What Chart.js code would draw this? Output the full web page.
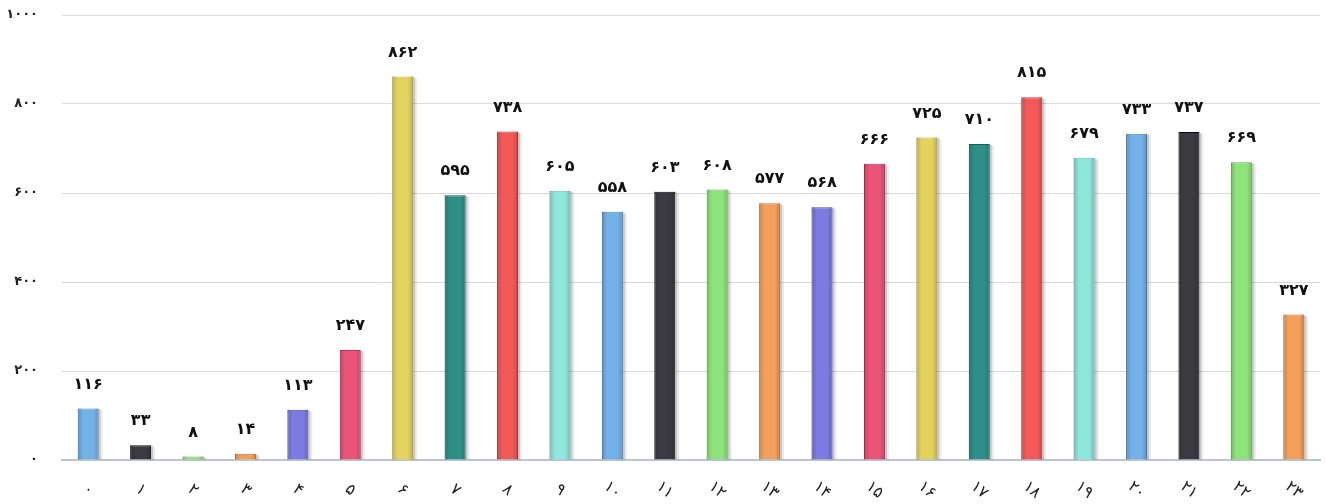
<!DOCTYPE html>
<html lang="fa">
<head>
<meta charset="UTF-8">
<title>Hourly chart</title>
<script src="https://cdn.jsdelivr.net/npm/chart.js"></script>
<style>
  body {
    margin: 0;
    background-color: #fff;
  }
  .wrap {
    width: 1325px;
    height: 504px;
  }
</style>
</head>
<body>

<div class="wrap">
  <canvas id="hours-chart"></canvas>
</div>

<script>
  // hours of the day, shown with Persian digits
  const hours = ['۰','۱','۲','۳','۴','۵','۶','۷','۸','۹','۱۰','۱۱','۱۲','۱۳','۱۴','۱۵','۱۶','۱۷','۱۸','۱۹','۲۰','۲۱','۲۲','۲۳'];
  const counts = [116, 33, 8, 14, 113, 247, 862, 595, 738, 605, 558, 603, 608, 577, 568, 666, 725, 710, 815, 679, 733, 737, 669, 327];
  const yTicks = [0, 200, 400, 600, 800, 1000];

  const palette = ['#74b1e6', '#3a3a40', '#8ee47a', '#f3a05c', '#7b7be0', '#ea5479', '#e3d35e', '#2e8f88', '#f25a5a', '#8fe6da'];
  const edges   = ['#4f8cc8', '#0c0c0e', '#62bd55', '#d07a36', '#4f4fb4', '#c3335a', '#bfae3c', '#15625c', '#cc3838', '#63c3b6'];

  const faDigits = '۰۱۲۳۴۵۶۷۸۹';
  function toFa(n) {
    return String(n).replace(/\d/g, d => faDigits[d]);
  }

  // grey strip on the right of each bar, drawn before the bars
  const barShadow = {
    id: 'barShadow',
    beforeDatasetsDraw(chart) {
      const ctx = chart.ctx;
      const meta = chart.getDatasetMeta(0);
      ctx.save();
      meta.data.forEach(bar => {
        const right = bar.x + bar.width / 2;
        const h = bar.base - bar.y;
        if (h < 1) return;
        ctx.fillStyle = 'rgba(0,0,0,0.22)';
        ctx.fillRect(right, bar.y + 1, 2, h - 1);
        ctx.fillStyle = 'rgba(0,0,0,0.08)';
        ctx.fillRect(right + 2, bar.y + 2, 2, h - 2);
      });
      ctx.restore();
    },
    afterDatasetsDraw(chart) {
      // darker edges, lighter middle
      const ctx = chart.ctx;
      const meta = chart.getDatasetMeta(0);
      ctx.save();
      meta.data.forEach(bar => {
        const left = bar.x - bar.width / 2;
        const h = bar.base - bar.y;
        if (h < 1) return;
        const g = ctx.createLinearGradient(left, 0, left + bar.width, 0);
        g.addColorStop(0, 'rgba(0,0,0,0.18)');
        g.addColorStop(0.25, 'rgba(0,0,0,0)');
        g.addColorStop(0.75, 'rgba(0,0,0,0)');
        g.addColorStop(1, 'rgba(0,0,0,0.18)');
        ctx.fillStyle = g;
        ctx.fillRect(left, bar.y, bar.width, h);
      });
      ctx.restore();
    }
  };

  // value above each bar
  const valueLabels = {
    id: 'valueLabels',
    afterDatasetsDraw(chart) {
      const ctx = chart.ctx;
      const meta = chart.getDatasetMeta(0);
      ctx.save();
      ctx.font = 'bold 16px "DejaVu Sans"';
      ctx.fillStyle = '#111';
      ctx.textAlign = 'center';
      ctx.textBaseline = 'bottom';
      meta.data.forEach((bar, i) => {
        ctx.fillText(toFa(counts[i]), bar.x, bar.y - 16);
      });
      ctx.restore();
    }
  };

  // x labels slanted clockwise
  const slantedLabels = {
    id: 'slantedLabels',
    afterDraw(chart) {
      const ctx = chart.ctx;
      const xs = chart.scales.x;
      ctx.save();
      ctx.font = '16px "DejaVu Sans"';
      ctx.fillStyle = '#222';
      ctx.textAlign = 'center';
      ctx.textBaseline = 'middle';
      hours.forEach((h, i) => {
        ctx.save();
        ctx.translate(xs.getPixelForValue(i), xs.top + 30);
        ctx.rotate(40 * Math.PI / 180);
        ctx.fillText(h, 0, 0);
        ctx.restore();
      });
      ctx.restore();
    }
  };

  const ctx = document.getElementById('hours-chart').getContext('2d');
  new Chart(ctx, {
    type: 'bar',
    data: {
      labels: hours,
      datasets: [{
        data: counts,
        backgroundColor: counts.map((v, i) => palette[i % palette.length]),
        borderColor: counts.map((v, i) => edges[i % edges.length]),
        borderWidth: 1,
        barPercentage: 0.4,
        categoryPercentage: 1
      }]
    },
    options: {
      responsive: true,
      maintainAspectRatio: false,
      animation: false,
      layout: {
        padding: { top: 15, right: 5, left: 0, bottom: 0 }
      },
      plugins: {
        legend: { display: false },
        tooltip: { enabled: false }
      },
      scales: {
        x: {
          ticks: { display: false },
          grid: { display: false },
          border: { color: '#b9c5d2', width: 2 },
          afterFit(scale) { scale.height = 44; }
        },
        y: {
          min: 0,
          max: 1000,
          afterBuildTicks(scale) {
            scale.ticks = yTicks.map(v => ({ value: v }));
          },
          ticks: {
            padding: 24,
            color: '#222',
            font: { family: 'DejaVu Sans', size: 13, weight: 'bold' },
            callback: v => toFa(v)
          },
          grid: { color: '#d9d9d9', drawTicks: false },
          border: { display: false },
          afterFit(scale) {
            scale.width = 62;
            scale.paddingTop = 0;
            scale.paddingBottom = 0;
          }
        }
      }
    },
    plugins: [barShadow, valueLabels, slantedLabels]
  });
</script>

</body>
</html>
